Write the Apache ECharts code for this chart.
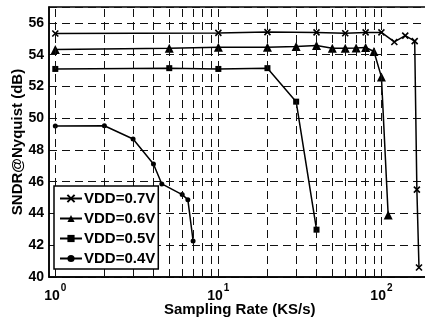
<!DOCTYPE html>
<html>
<head>
<meta charset="utf-8">
<script src="https://cdn.jsdelivr.net/npm/echarts@6/dist/echarts.min.js"></script>
<style>
  html, body { margin: 0; padding: 0; background: #fff; }
  #chart { width: 425px; height: 322px; }
</style>
</head>
<body>
<div id="chart"></div>
<script>
const FONT = "Liberation Sans";

// sampling rate (KS/s) and SNDR (dB) per supply voltage
const rate07 = [1, 10, 20, 40, 60, 80, 100, 120, 140, 160, 165, 170];
const sndr07 = [55.33, 55.37, 55.42, 55.4, 55.35, 55.4, 55.4, 54.8, 55.2, 54.85, 45.5, 40.6];

const rate06 = [1, 5, 10, 20, 30, 40, 50, 60, 70, 80, 90, 100, 110];
const sndr06 = [54.32, 54.4, 54.46, 54.46, 54.52, 54.58, 54.4, 54.4, 54.42, 54.45, 54.2, 52.6, 43.9];

const rate05 = [1, 5, 10, 20, 30, 40];
const sndr05 = [53.1, 53.15, 53.1, 53.15, 51.04, 42.98];

const rate04 = [1, 2, 3, 4, 4.5, 6, 6.5, 7];
const sndr04 = [49.5, 49.52, 48.69, 47.12, 45.86, 45.19, 44.87, 42.27];

const seriesNames = ["VDD=0.7V", "VDD=0.6V", "VDD=0.5V", "VDD=0.4V"];

// vertical grid positions on the log axis
const gridRates = [1, 2, 3, 4, 5, 6, 7, 8, 9, 10, 20, 30, 40, 50, 60, 70, 80, 90, 100];

const DASH = [8, 5];

function pairs(xs, ys) {
  return xs.map((x, i) => [x, ys[i]]);
}

function lineSeries(name, xs, ys, symbol, size, extra) {
  return Object.assign({
    name,
    type: "line",
    data: pairs(xs, ys),
    symbol,
    symbolSize: size,
    showAllSymbol: true,
    lineStyle: { color: "#000", width: 1.5 },
    itemStyle: { color: "#000" },
    emphasis: { disabled: true },
    animation: false,
    z: 3,
  }, extra || {});
}

const chart = echarts.init(document.getElementById("chart"));

chart.setOption({
  animation: false,
  textStyle: { fontFamily: FONT },
  grid: {
    left: 49, top: 7, right: -5.5, bottom: 45,
    show: true, borderColor: "#000", borderWidth: 1.5,
    containLabel: false, outerBoundsMode: "none",
  },
  legend: {
    orient: "vertical",
    left: 54,
    top: 186,
    data: seriesNames,
    backgroundColor: "#fff",
    borderColor: "#000",
    borderWidth: 1.5,
    borderRadius: 0,
    padding: [5, 3, 3, 5],
    itemWidth: 22,
    itemHeight: 9,
    itemGap: 5,
    z: 10,
    textStyle: { fontFamily: FONT, fontSize: 15, fontWeight: "bold", color: "#000", lineHeight: 15, padding: [0, 0, 0, -3] },
  },
  xAxis: {
    type: "log",
    logBase: 10,
    min: 0.915,
    max: 200,
    name: "Sampling Rate (KS/s)",
    nameLocation: "middle",
    nameGap: 25,
    nameMoveOverlap: false,
    nameTextStyle: { fontFamily: FONT, fontSize: 15, fontWeight: "bold", color: "#000" },
    axisLine: { lineStyle: { color: "#000", width: 1.5 } },
    axisTick: { show: false },
    splitLine: { show: false },
    axisLabel: {
      showMinLabel: false,
      showMaxLabel: false,
      margin: 6,
      formatter: (v) => {
        const e = Math.log10(v);
        if (Math.abs(e - Math.round(e)) > 1e-6) return "";
        return "{b|10}{s|" + Math.round(e) + "}";
      },
      rich: {
        b: { fontFamily: FONT, fontSize: 14, fontWeight: "bold", color: "#000", verticalAlign: "bottom", lineHeight: 20 },
        s: { fontFamily: FONT, fontSize: 10, fontWeight: "bold", color: "#000", verticalAlign: "top", lineHeight: 20, padding: [0, 0, 4, 1] },
      },
    },
  },
  yAxis: {
    type: "value",
    min: 40,
    max: 57,
    interval: 2,
    name: "SNDR@Nyquist (dB)",
    nameLocation: "middle",
    nameGap: 24,
    nameMoveOverlap: false,
    nameTextStyle: { fontFamily: FONT, fontSize: 15, fontWeight: "bold", color: "#000" },
    axisLine: { show: true, lineStyle: { color: "#000", width: 1.5 } },
    axisTick: { show: false },
    axisLabel: { showMaxLabel: false, margin: 5, fontFamily: FONT, fontSize: 14, fontWeight: "bold", color: "#000" },
    splitLine: { show: true, lineStyle: { color: "#111", width: 1, type: DASH } },
  },
  series: [
    lineSeries(seriesNames[0], rate07, sndr07, "path://M0,0L10,10M10,0L0,10", 6, {
      itemStyle: { color: "#000", borderColor: "#000", borderWidth: 1.6 },
      markLine: {
        silent: true,
        symbol: "none",
        label: { show: false },
        animation: false,
        lineStyle: { color: "#111", width: 1, type: DASH },
        data: gridRates.map((r) => ({ xAxis: r })),
      },
    }),
    lineSeries(seriesNames[1], rate06, sndr06, "triangle", 9),
    lineSeries(seriesNames[2], rate05, sndr05, "rect", 6),
    lineSeries(seriesNames[3], rate04, sndr04, "circle", 5),
  ],
});
</script>
</body>
</html>
